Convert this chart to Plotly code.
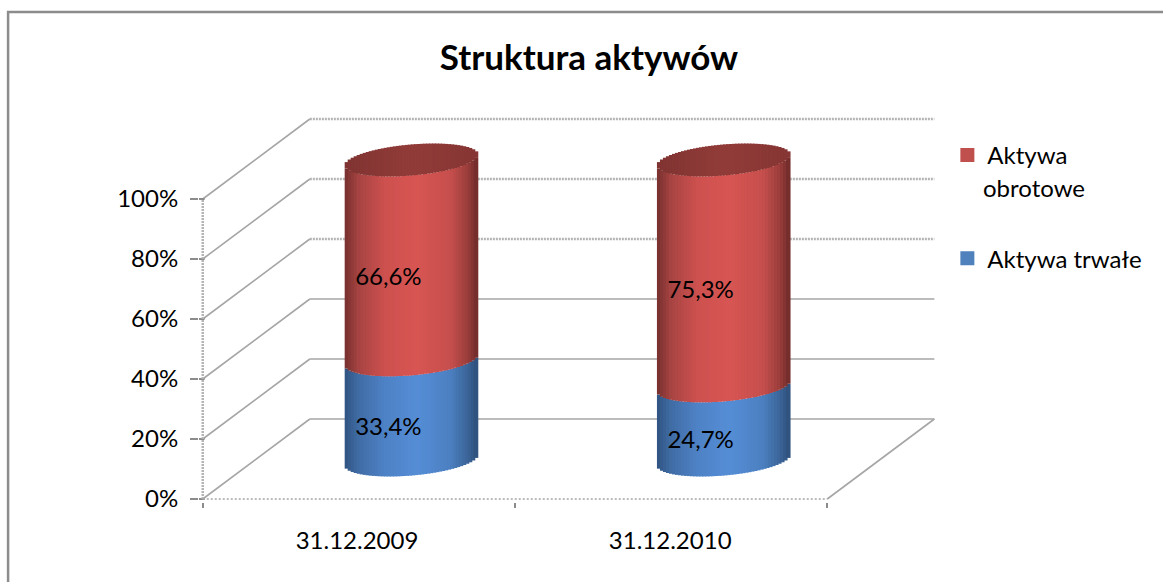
import numpy as np
import plotly.graph_objects as go

categories = ["31.12.2009", "31.12.2010"]
aktywa_trwale = [33.4, 24.7]
aktywa_obrotowe = [66.6, 75.3]
y_ticks = [0, 20, 40, 60, 80, 100]
y_labels = ["0%", "20%", "40%", "60%", "80%", "100%"]
title_text = "Struktura aktywów"
legend_names = ["Aktywa", "Aktywa trwałe"]
legend_second_line = "obrotowe"

W, H = 1163, 582
PX_X = 312.0          # pixels per category
PX_Y = 3.0            # pixels per percent
X0, Y0 = 203, 499     # pixel position of (0, 0)
XMIN, YMIN = -0.012, -1.0
XMAX, YMAX = 2.345, 128.0
DEPTH_X, DEPTH_Y = 107 / PX_X, 80 / PX_Y
CENTER_SHIFT = DEPTH_X / 2 + 0.5 - 0.003
RADIUS = 66 / PX_X
ELL_B = 15.5 / PX_Y
ELL_TILT = 5.5 / PX_Y
BASE = 13.0
N = 44


def mix(stops, t):
    ts = [s[0] for s in stops]
    return "rgb(%d,%d,%d)" % tuple(np.interp(t, ts, [s[1][i] for s in stops]) for i in range(3))


RED = [(0, (118, 48, 46)), (0.1, (165, 68, 66)), (0.3, (205, 81, 79)), (0.55, (216, 86, 83)),
       (0.8, (198, 79, 77)), (0.93, (155, 62, 60)), (1, (112, 44, 42))]
BLUE = [(0, (48, 84, 130)), (0.1, (64, 108, 164)), (0.3, (78, 130, 198)), (0.55, (86, 142, 214)),
        (0.8, (76, 128, 194)), (0.93, (60, 102, 154)), (1, (46, 80, 122))]
TOP = [(0, (128, 52, 50)), (0.5, (146, 60, 57)), (1, (134, 54, 52))]

us = (np.arange(N) + 0.5) / N * 2 - 1
strip_w = 2 * RADIUS / N * 1.5


def front(level, u):
    return level + ELL_TILT * u - ELL_B * np.sqrt(1 - u ** 2)


def back(level, u):
    return level + ELL_TILT * u + ELL_B * np.sqrt(1 - u ** 2)


def body(lows, highs, stops):
    xs, bases, heights, cols = [], [], [], []
    for i in range(len(categories)):
        for u in us:
            b = front(BASE + lows[i], u)
            t = front(BASE + highs[i], u)
            xs.append(i + CENTER_SHIFT + RADIUS * u)
            bases.append(b)
            heights.append(t - b)
            cols.append(mix(stops, (u + 1) / 2))
    return go.Bar(x=xs, y=heights, base=bases, width=strip_w, marker=dict(color=cols, line=dict(width=0)),
                  showlegend=False, hoverinfo="skip")


fig = go.Figure()
zeros = [0, 0]
fig.add_trace(body(zeros, aktywa_trwale, BLUE))
fig.add_trace(body(aktywa_trwale, [a + b for a, b in zip(aktywa_trwale, aktywa_obrotowe)], RED))

# top cap
xs, bases, heights, cols = [], [], [], []
for i in range(len(categories)):
    lvl = BASE + aktywa_trwale[i] + aktywa_obrotowe[i]
    for u in us:
        xs.append(i + CENTER_SHIFT + RADIUS * u)
        bases.append(front(lvl, u))
        heights.append(back(lvl, u) - front(lvl, u))
        cols.append(mix(TOP, (u + 1) / 2))
fig.add_trace(go.Bar(x=xs, y=heights, base=bases, width=strip_w, marker=dict(color=cols, line=dict(width=0)),
                     showlegend=False, hoverinfo="skip"))

# data labels
lx, ly, lt = [], [], []
for i in range(len(categories)):
    a, b = aktywa_trwale[i], aktywa_obrotowe[i]
    for mid, v in ((a / 2, a), (a + b / 2, b)):
        lx.append(i + CENTER_SHIFT - 0.074)
        ly.append(BASE + mid - 6.2)
        lt.append(f"{v:.1f}".replace(".", ",") + "%")
fig.add_trace(go.Scatter(x=lx, y=ly, text=lt, mode="text", textposition="middle center",
                         textfont=dict(family="Lato", size=24, color="#000000"),
                         showlegend=False, hoverinfo="skip"))

# legend entries
fig.add_trace(go.Bar(x=[None], y=[None], name=legend_names[0], legendgroup="a",
                     marker=dict(color="#C0504D", line=dict(color="#C0504D", width=2))))
fig.add_trace(go.Bar(x=[None], y=[None], name=legend_names[1], legendgroup="b",
                     marker=dict(color="#4F81BD", line=dict(color="#4F81BD", width=2))))

# walls and floor
shapes = []
GRID = "#a6a6a6"
for t in y_ticks:
    soft = t >= 60
    shapes.append(dict(type="line", xref="x", yref="y", layer="below", x0=DEPTH_X, x1=2 + DEPTH_X,
                       y0=t + DEPTH_Y, y1=t + DEPTH_Y,
                       line=dict(color="#b4b4b4" if soft else GRID, width=2.5 if soft else 1.6,
                                 dash="2px,1px" if soft else "solid")))
    shapes.append(dict(type="line", xref="x", yref="y", layer="below", x0=0, x1=DEPTH_X,
                       y0=t, y1=t + DEPTH_Y, line=dict(color=GRID, width=1.6)))
    shapes.append(dict(type="line", xref="x", yref="y", layer="below", x0=XMIN, x1=0.006,
                       y0=t, y1=t, line=dict(color="#8c8c8c", width=2)))
shapes.append(dict(type="line", xref="x", yref="y", layer="below", x0=0, x1=0, y0=0, y1=100,
                   line=dict(color="#b4b4b4", width=2.5, dash="2px,1px")))
shapes.append(dict(type="line", xref="x", yref="y", layer="below", x0=0, x1=2, y0=0, y1=0,
                   line=dict(color="#a6a6a6", width=1.6, dash="2px,2px")))
shapes.append(dict(type="line", xref="x", yref="y", layer="below", x0=2, x1=2 + DEPTH_X, y0=0, y1=DEPTH_Y,
                   line=dict(color=GRID, width=1.6)))

# outer frame, open beyond the right and bottom image edges
pl = X0 + XMIN * PX_X
pr = X0 + XMAX * PX_X
pb = Y0 - YMIN * PX_Y
pt = Y0 - YMAX * PX_Y
shapes.append(dict(type="rect", xref="paper", yref="paper", layer="below",
                   x0=(8.5 - pl) / (pr - pl), x1=(W + 10 - pl) / (pr - pl),
                   y0=(pb - (H + 10)) / (pb - pt), y1=(pb - 12) / (pb - pt),
                   line=dict(color="#8c8c8c", width=2.5)))

fig.update_layout(
    width=W, height=H, autosize=False,
    margin=dict(l=pl, r=W - pr, t=pt, b=H - pb, pad=0),
    paper_bgcolor="white", plot_bgcolor="white",
    barmode="overlay",
    shapes=shapes,
    annotations=[dict(text=legend_second_line, xref="paper", yref="paper", showarrow=False,
                      x=(981 - pl) / (pr - pl), xanchor="left",
                      y=(pb - 187) / (pb - pt), yanchor="middle",
                      font=dict(family="Lato", size=24, color="#000000"))],
    title=dict(text=f"<b>{title_text}</b>", x=589 / W, xanchor="center", y=1 - 58 / H, yanchor="middle",
               font=dict(family="Lato", size=35, color="#000000")),
    xaxis=dict(range=[XMIN, XMAX], showgrid=False, zeroline=False, showline=False,
               tickmode="array", tickvals=[0.494, 1.497], ticktext=categories, ticks="",
               tickfont=dict(family="Lato", size=24, color="#000000"), ticklabelstandoff=22,
               minor=dict(tickmode="array", tickvals=[0, 1, 2], ticks="outside", ticklen=5, tickwidth=2,
                          tickcolor="#8c8c8c", showgrid=False)),
    yaxis=dict(range=[YMIN, YMAX], showgrid=False, zeroline=False, showline=False,
               tickmode="array", tickvals=y_ticks, ticktext=y_labels, ticks="outside", ticklen=8, tickwidth=2,
               tickcolor="#8c8c8c", tickfont=dict(family="Lato", size=24, color="#000000"), ticklabelstandoff=7),
    legend=dict(x=(947 - pl) / (pr - pl), xanchor="left", y=(pb - 133) / (pb - pt), yanchor="top",
                xref="paper", yref="paper", bgcolor="rgba(0,0,0,0)", borderwidth=0,
                font=dict(family="Lato", size=24, color="#000000"), tracegroupgap=69, traceorder="grouped"),
)
fig.write_html("out.html", post_script="document.body.style.margin='0';", config={"displayModeBar": False})
